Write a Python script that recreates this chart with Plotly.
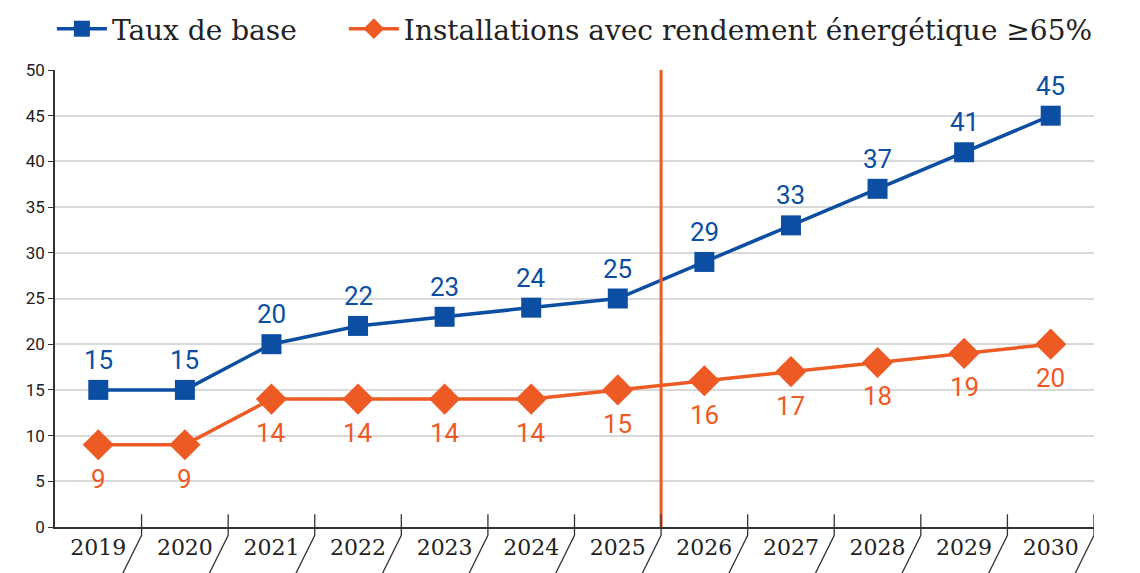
import plotly.graph_objects as go

years = ["2019", "2020", "2021", "2022", "2023", "2024", "2025", "2026", "2027", "2028", "2029", "2030"]
taux_base = [15, 15, 20, 22, 23, 24, 25, 29, 33, 37, 41, 45]
installations = [9, 9, 14, 14, 14, 14, 15, 16, 17, 18, 19, 20]
name_base = "Taux de base"
name_inst = "Installations avec rendement énergétique ≥65%"
y_ticks = [0, 5, 10, 15, 20, 25, 30, 35, 40, 45, 50]
split_after = "2025"

BLUE = "#0B4EA2"
ORANGE = "#EE5A24"
idx = list(range(len(years)))
LABEL_FONT = "Liberation Sans Narrow, Roboto, sans-serif"
LEGEND_FONT = dict(family="DejaVu Serif, serif", size=28, color="#222222")

fig = go.Figure()
fig.add_trace(go.Scatter(
    x=idx, y=taux_base, name=name_base, mode="lines+markers",
    line=dict(color=BLUE, width=3.5),
    marker=dict(symbol="square", size=20, color=BLUE),
    cliponaxis=False, legend="legend",
))
fig.add_trace(go.Scatter(
    x=idx, y=installations, name=name_inst, mode="lines+markers",
    line=dict(color=ORANGE, width=3.5),
    marker=dict(symbol="diamond", size=24, color=ORANGE),
    cliponaxis=False, legend="legend2",
))

annotations = []
for i, v in zip(idx, taux_base):
    annotations.append(dict(x=i, y=v, xref="x", yref="y", text=str(v), showarrow=False,
                            yshift=30, font=dict(family=LABEL_FONT, size=26, color=BLUE)))
for i, v in zip(idx, installations):
    annotations.append(dict(x=i, y=v, xref="x", yref="y", text=str(v), showarrow=False,
                            yshift=-34, font=dict(family=LABEL_FONT, size=26, color=ORANGE)))

shapes = []
sx = years.index(split_after) + 0.5
shapes.append(dict(type="line", xref="x", yref="paper", x0=sx, x1=sx, y0=0, y1=1,
                   line=dict(color=ORANGE, width=3), layer="above"))
for i in range(len(years)):
    b = i + 0.5
    shapes.append(dict(type="path", xref="x", yref="paper",
                       path=f"M {b},0.028 L {b},-0.018 L {b-0.24},-0.11",
                       line=dict(color="#333333", width=1.3)))

fig.update_layout(
    width=1132, height=565,
    margin=dict(l=47, r=46, t=62, b=46, autoexpand=False),
    plot_bgcolor="white", paper_bgcolor="white",
    showlegend=True,
    legend=dict(orientation="h", x=-0.003, y=1.035, xanchor="left", yanchor="bottom",
                font=LEGEND_FONT, itemwidth=50),
    legend2=dict(orientation="h", x=0.278, y=1.035, xanchor="left", yanchor="bottom",
                 font=LEGEND_FONT, itemwidth=50),
    shapes=shapes,
    annotations=annotations,
    xaxis=dict(range=[-0.5, len(years) - 0.5], tickmode="array", tickvals=idx, ticktext=years,
               showgrid=False, zeroline=False, showline=True, linecolor="#333333", linewidth=1.5,
               ticks="", automargin=False,
               tickfont=dict(family="DejaVu Serif, serif", size=22, color="#222222")),
    yaxis=dict(range=[0, 50], tickmode="array", tickvals=y_ticks,
               showgrid=True, gridcolor="#D9D9D9", gridwidth=1.5, zeroline=False,
               showline=True, linecolor="#333333", linewidth=1.5,
               ticks="outside", ticklen=5, tickcolor="#333333", automargin=False,
               tickfont=dict(family=LABEL_FONT, size=17, color="#222222")),
)

fig.write_html("out.html")
